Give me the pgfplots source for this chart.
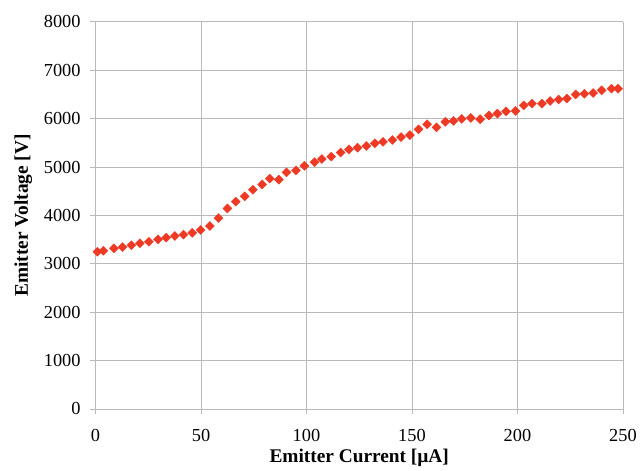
\documentclass[border=0pt]{standalone}
\usepackage{fontspec}
\setmainfont{Liberation Serif}
\usepackage{pgfplots}
\pgfplotsset{compat=1.18}
\definecolor{mred}{RGB}{238,58,36}
\definecolor{gridc}{RGB}{185,185,185}
\newcommand{\tkfont}{\rmfamily\fontsize{18.5}{22}\selectfont}
\begin{document}
\begin{tikzpicture}[x=1bp,y=1bp]
\path (0,0) rectangle (640,473);
\begin{axis}[
  at={(96bp,62bp)}, anchor=south west,
  scale only axis, width=530bp, height=389bp,
  xmin=0, xmax=250, ymin=0, ymax=8000,
  xtick={0,50,...,250}, ytick={0,1000,...,8000},
  /pgf/number format/assume math mode=true,
  /pgf/number format/1000 sep={},
  xticklabel={\tkfont\pgfmathprintnumber{\tick}},
  yticklabel={\tkfont\pgfmathprintnumber{\tick}},
  axis lines=left, axis line style={gridc, line width=0.8pt, -},
  grid=major, major grid style={gridc, line width=0.8pt},
  tick style={gridc, line width=0.8pt},
  tick align=outside, major tick length=5.5bp,
  xticklabel style={yshift=-11bp, text=black},
  yticklabel style={xshift=-6bp, text=black},
  xlabel={\textbf{Emitter Current [µA]}},
  ylabel={\textbf{Emitter Voltage [V]}},
  label style={font=\rmfamily\fontsize{19.5}{22}\selectfont},
  xlabel style={yshift=-1bp},
  ylabel style={yshift=5bp},
  clip=false,
]
\addplot[only marks, mark=square*, mark size=3.2bp, color=mred,
  mark options={rotate=45, fill=mred, draw=mred}] coordinates {
(0.9,3250) (3.7,3270) (8.7,3320) (12.8,3345) (17.0,3385) (21.0,3425)
(25.3,3455) (29.6,3505) (33.5,3540) (37.6,3575) (41.7,3605) (45.8,3640)
(49.8,3700) (54.2,3780) (58.3,3945) (62.5,4145) (66.5,4285) (70.7,4395)
(74.6,4530) (79.0,4640) (82.6,4760) (86.9,4740) (90.5,4890) (95.0,4930)
(99.0,5025) (103.8,5100) (107.3,5165) (111.7,5215) (116.2,5300) (120.1,5365)
(124.2,5400) (128.4,5435) (132.4,5490) (136.3,5520) (140.7,5560) (144.8,5620)
(149.0,5660) (153.1,5780) (157.2,5885) (161.6,5820) (165.8,5935) (169.7,5955)
(173.6,5995) (177.9,6015) (182.3,5990) (186.5,6065) (190.5,6105) (194.6,6150)
(199.1,6160) (203.0,6275) (206.9,6310) (211.6,6310) (215.5,6365) (219.5,6395)
(223.4,6415) (227.6,6500) (231.7,6515) (235.9,6530) (239.9,6585) (244.6,6620)
(247.7,6620)
};
\end{axis}
\end{tikzpicture}
\end{document}
